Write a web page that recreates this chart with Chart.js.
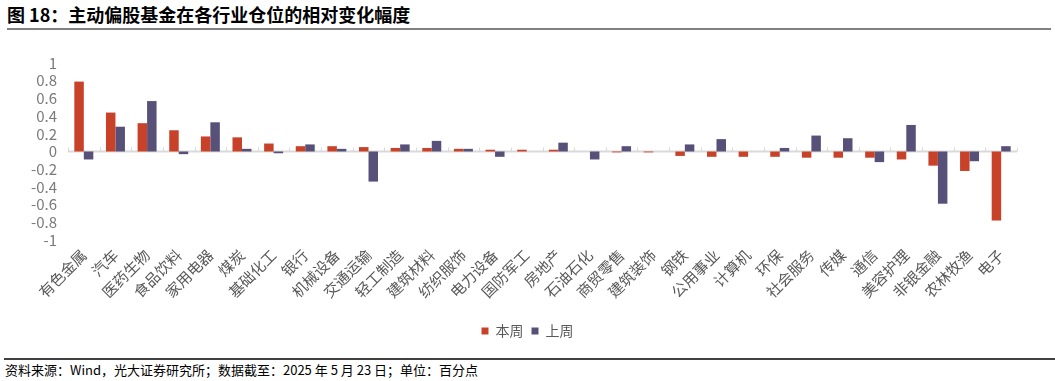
<!DOCTYPE html>
<html><head><meta charset="utf-8">
<script src="https://cdn.jsdelivr.net/npm/chart.js@4.4.0/dist/chart.umd.min.js"></script>
<style>
html,body{margin:0;padding:0;background:#fff;width:1055px;height:381px;overflow:hidden;font-family:"Noto Sans CJK SC",sans-serif;}
#title{position:absolute;left:7px;top:2px;font-size:18px;font-weight:bold;color:#000;line-height:24px;white-space:nowrap;}
#tline{position:absolute;left:7px;right:4px;top:28px;height:2px;background:#808080;}
#fline{position:absolute;left:4px;right:0;top:358px;height:2px;background:#404040;}
#foot{position:absolute;left:5px;top:361px;font-size:13px;line-height:17px;color:#000;white-space:nowrap;}
#c{position:absolute;left:0;top:32px;}
</style></head><body>
<div id="title">图 18：主动偏股基金在各行业仓位的相对变化幅度</div>
<div id="tline"></div>
<canvas id="c" width="1055" height="316"></canvas>
<div id="fline"></div>
<div id="foot">资料来源：Wind，光大证券研究所；数据截至：2025 年 5 月 23 日；单位：百分点</div>
<script>
const categories = ['有色金属','汽车','医药生物','食品饮料','家用电器','煤炭','基础化工','银行','机械设备','交通运输','轻工制造','建筑材料','纺织服饰','电力设备','国防军工','房地产','石油石化','商贸零售','建筑装饰','钢铁','公用事业','计算机','环保','社会服务','传媒','通信','美容护理','非银金融','农林牧渔','电子'];
const thisWeek = [0.79,0.44,0.32,0.24,0.17,0.16,0.09,0.06,0.06,0.05,0.04,0.04,0.03,0.02,0.02,0.02,0,-0.01,-0.01,-0.05,-0.06,-0.06,-0.06,-0.07,-0.07,-0.07,-0.09,-0.16,-0.22,-0.78];
const lastWeek = [-0.09,0.28,0.57,-0.03,0.33,0.03,-0.02,0.08,0.03,-0.34,0.08,0.12,0.03,-0.06,0,0.1,-0.09,0.06,0,0.08,0.14,0,0.04,0.18,0.15,-0.12,0.3,-0.59,-0.11,0.06];
const seriesNames = ['本周','上周'];
const yMin = -1, yMax = 1, yStep = 0.2;

const zeroLine = {
  id: 'zeroLine',
  beforeDatasetsDraw(chart) {
    const {ctx, chartArea, scales: {x, y}} = chart;
    const y0 = y.getPixelForValue(0);
    const half = (x.getPixelForValue(1) - x.getPixelForValue(0)) / 2;
    ctx.save();
    ctx.strokeStyle = '#d9d9d9';
    ctx.lineWidth = 2;
    ctx.beginPath();
    ctx.moveTo(chartArea.left, y0);
    ctx.lineTo(chartArea.right, y0);
    ctx.stroke();
    ctx.lineWidth = 1;
    for (let i = 0; i <= categories.length; i++) {
      const px = Math.round(x.getPixelForValue(0) - half + i * 2 * half) + 0.5;
      ctx.beginPath();
      ctx.moveTo(px, y0 - 4);
      ctx.lineTo(px, y0);
      ctx.stroke();
    }
    ctx.restore();
  }
};

new Chart(document.getElementById('c'), {
  type: 'bar',
  data: {
    labels: categories,
    datasets: [
      {label: seriesNames[0], data: thisWeek, backgroundColor: '#C8422A', borderWidth: 0, yAxisID: 'y'},
      {label: seriesNames[1], data: lastWeek, backgroundColor: '#575179', borderWidth: 0, yAxisID: 'y'}
    ]
  },
  options: {
    responsive: false,
    animation: false,
    devicePixelRatio: 1,
    categoryPercentage: 0.6,
    barPercentage: 1.0,
    layout: {padding: {top: 31, right: 0, left: 0, bottom: 0}},
    plugins: {
      legend: {
        position: 'bottom',
        labels: {boxWidth: 7, boxHeight: 7, padding: 8, color: '#595959', font: {family: '"Noto Sans CJK SC"', size: 14}}
      },
      tooltip: {enabled: false}
    },
    scales: {
      x: {
        grid: {display: false, drawTicks: false},
        border: {display: false},
        ticks: {color: '#595959', font: {family: '"Noto Sans CJK SC"', size: 15}, minRotation: 45, maxRotation: 45, autoSkip: false, padding: 6},
        afterFit(s) { s.height = 76; }
      },
      y: {
        min: yMin, max: yMax,
        grid: {display: false, drawTicks: false},
        border: {display: false},
        ticks: {stepSize: yStep, autoSkip: false, color: '#7a7a7a', font: {family: '"Noto Sans CJK SC"', size: 15}, padding: 11,
          callback: (v) => String(Math.round(v * 10) / 10)},
        afterFit(s) { s.width = 68; }
      },
      yRight: {
        type: 'linear',
        position: 'right',
        display: true,
        grid: {display: false, drawTicks: false},
        border: {display: false},
        ticks: {display: false},
        afterFit(s) { s.width = 38; }
      }
    }
  },
  plugins: [zeroLine]
});
</script>
</body></html>
